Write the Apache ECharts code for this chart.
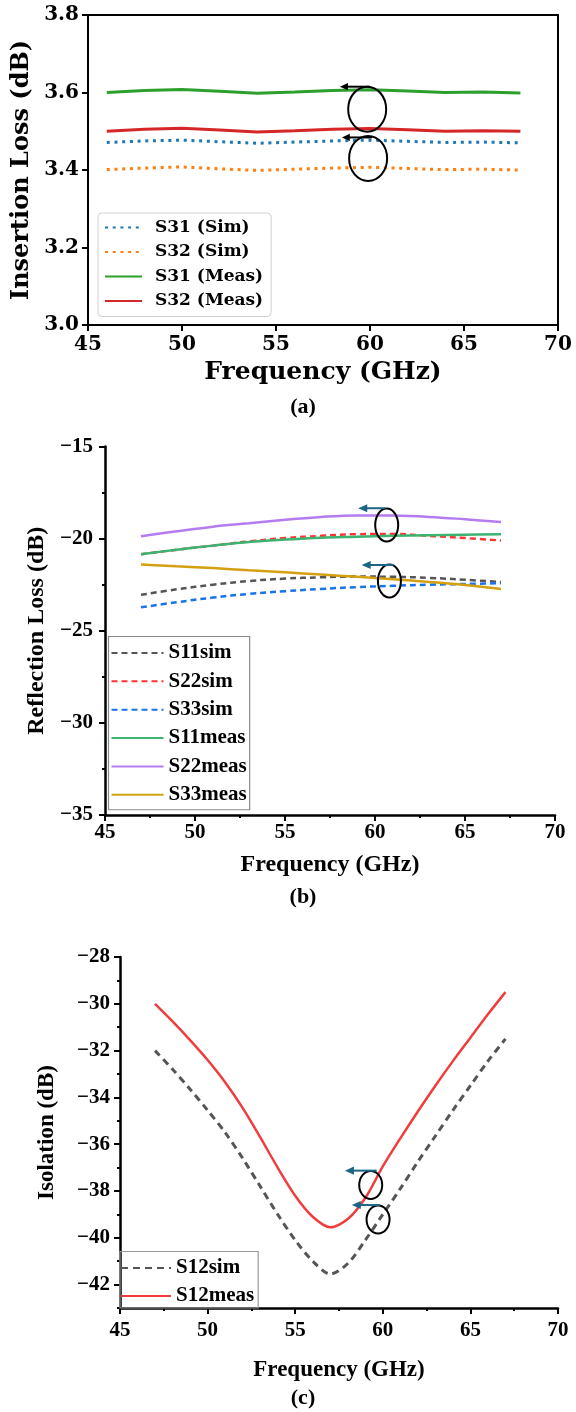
<!DOCTYPE html>
<html>
<head>
<meta charset="utf-8">
<script src="https://cdn.jsdelivr.net/npm/echarts@6/dist/echarts.min.js"></script>
<style>
  html, body { margin: 0; padding: 0; background: #fff; }
  #chart { width: 576px; height: 1412px; }
</style>
</head>
<body>
<div id="chart"></div>
<script>
// (a) insertion loss
var freqA = [46, 48, 50, 52, 54, 56, 58, 60, 62, 64, 66, 68];
var s31Sim = [3.471, 3.475, 3.477, 3.473, 3.469, 3.472, 3.475, 3.477, 3.474, 3.471, 3.472, 3.470];
var s32Sim = [3.401, 3.405, 3.408, 3.403, 3.399, 3.402, 3.405, 3.407, 3.404, 3.401, 3.402, 3.400];
var s31Meas = [3.600, 3.605, 3.608, 3.603, 3.598, 3.601, 3.605, 3.607, 3.604, 3.600, 3.601, 3.599];
var s32Meas = [3.500, 3.505, 3.508, 3.503, 3.498, 3.501, 3.505, 3.507, 3.504, 3.500, 3.501, 3.500];

// (b) reflection loss
var freqB = [47, 49, 51, 53, 55, 57, 59, 61, 63, 65, 67];
var s11Sim = [-23.05, -22.75, -22.5, -22.3, -22.17, -22.1, -22.06, -22.07, -22.13, -22.23, -22.36];
var s22Sim = [-20.85, -20.6, -20.38, -20.15, -19.97, -19.85, -19.76, -19.75, -19.85, -19.97, -20.1];
var s33Sim = [-23.73, -23.45, -23.2, -23.0, -22.85, -22.73, -22.63, -22.56, -22.5, -22.46, -22.42];
var s11Meas = [-20.85, -20.6, -20.38, -20.18, -20.05, -19.95, -19.9, -19.85, -19.82, -19.79, -19.76];
var s22Meas = [-19.87, -19.6, -19.35, -19.17, -18.98, -18.82, -18.74, -18.75, -18.82, -18.95, -19.1];
var s33Meas = [-21.4, -21.5, -21.6, -21.72, -21.83, -21.95, -22.07, -22.2, -22.35, -22.52, -22.73];

// (c) isolation
var freqC = [47, 48, 49, 50, 51, 52, 53, 54, 55, 56, 57, 58, 59, 60, 61, 62, 63, 64, 65, 66, 67];
var s12Sim = [-32.0, -32.8, -33.65, -34.55, -35.5, -36.6, -37.8, -39.0, -40.1, -41.0, -41.55, -41.1, -40.1, -39.0, -37.9, -36.75, -35.65, -34.55, -33.5, -32.45, -31.5];
var s12Meas = [-30.0, -30.75, -31.55, -32.4, -33.35, -34.45, -35.7, -37.0, -38.2, -39.1, -39.55, -39.2, -38.3, -36.95, -35.75, -34.6, -33.5, -32.45, -31.45, -30.45, -29.5];

// tick labels
var freqTicks = [45, 50, 55, 60, 65, 70];
var isoTicks = [-42, -40, -38, -36, -34, -32, -30, -28];

// arrow + ellipse annotations, in data units: ellipse centre, arrow tail, arrow tip
var annotA = [
    {c: [59.85, 3.557], from: [60.0, 3.615], to: [58.4, 3.615]},
    {c: [59.9, 3.43], from: [60.1, 3.484], to: [58.5, 3.484]}
];
var annotB = [
    {c: [60.65, -19.26], from: [60.56, -18.35], to: [59.07, -18.35]},
    {c: [60.8, -22.3], from: [61.02, -21.43], to: [59.26, -21.43]}
];
var annotC = [
    {c: [59.31, -37.74], from: [59.65, -37.13], to: [57.84, -37.13]},
    {c: [59.73, -39.22], from: [59.84, -38.6], to: [58.23, -38.6]}
];

var FONT_A = '"DejaVu Serif", serif';
var FONT_B = '"Liberation Serif", "Times New Roman", serif';
var MINUS = '\u2212';

function pairs(xs, ys) {
    return xs.map(function (x, i) { return [x, ys[i]]; });
}
function minusFmt(v) {
    return v < 0 ? MINUS + Math.abs(v) : String(v);
}
function line(name, idx, xs, ys, color, width, dash, smooth) {
    return {
        name: name, type: 'line', xAxisIndex: idx, yAxisIndex: idx,
        data: pairs(xs, ys), symbol: 'none', smooth: smooth || false,
        lineStyle: {color: color, width: width, type: dash || 'solid'},
        itemStyle: {color: color}, z: 3
    };
}

var blackLine = {show: true, lineStyle: {color: '#000', width: 2}};
var tick = {show: true, length: 6, lineStyle: {color: '#000', width: 2}};
var minor = {show: true, splitNumber: 2, length: 3, lineStyle: {color: '#000', width: 2}};

var chart = echarts.init(document.getElementById('chart'));

var option = {
    animation: false,
    backgroundColor: '#fff',
    grid: [
        {left: 88, right: 18, top: 15, height: 310, show: true, borderColor: '#000', borderWidth: 2},
        {left: 105, right: 21, top: 446.5, height: 368.5},
        {left: 120, right: 18, top: 957, height: 351}
    ],
    xAxis: [
        {
            gridIndex: 0, type: 'value', min: 45, max: 70, interval: 5,
            axisLine: blackLine, axisTick: tick,
            axisLabel: {color: '#000', fontFamily: FONT_A, fontWeight: 'bold', fontSize: 20, margin: 10},
            splitLine: {show: false},
            name: 'Frequency (GHz)', nameLocation: 'middle', nameGap: 34.5,
            nameTextStyle: {color: '#000', fontFamily: FONT_A, fontWeight: 'bold', fontSize: 25}
        },
        {
            gridIndex: 1, type: 'value', min: 45, max: 70, interval: 5,
            axisLine: {show: true, lineStyle: {color: '#000', width: 2.5}},
            axisTick: tick, minorTick: minor,
            axisLabel: {color: '#000', fontFamily: FONT_B, fontWeight: 'bold', fontSize: 21, margin: 7},
            splitLine: {show: false},
            name: 'Frequency (GHz)', nameLocation: 'middle', nameGap: 38,
            nameTextStyle: {color: '#000', fontFamily: FONT_B, fontWeight: 'bold', fontSize: 24}
        },
        {
            gridIndex: 2, type: 'value', min: 45, max: 70, interval: 5,
            axisLine: {show: true, lineStyle: {color: '#000', width: 2.5}},
            axisTick: tick, minorTick: minor,
            axisLabel: {color: '#000', fontFamily: FONT_B, fontWeight: 'bold', fontSize: 21, margin: 12,
                customValues: freqTicks},
            splitLine: {show: false},
            name: 'Frequency (GHz)', nameLocation: 'middle', nameGap: 51,
            nameTextStyle: {color: '#000', fontFamily: FONT_B, fontWeight: 'bold', fontSize: 23}
        }
    ],
    yAxis: [
        {
            gridIndex: 0, type: 'value', min: 3.0, max: 3.8, interval: 0.2,
            axisLine: blackLine, axisTick: tick,
            axisLabel: {color: '#000', fontFamily: FONT_A, fontWeight: 'bold', fontSize: 20, margin: 9,
                formatter: function (v) { return v.toFixed(1); }},
            splitLine: {show: false},
            name: 'Insertion Loss (dB)', nameLocation: 'middle', nameGap: 38,
            nameTextStyle: {color: '#000', fontFamily: FONT_A, fontWeight: 'bold', fontSize: 24}
        },
        {
            gridIndex: 1, type: 'value', min: -35, max: -15, interval: 5,
            axisLine: {show: true, lineStyle: {color: '#000', width: 2.5}},
            axisTick: tick, minorTick: minor,
            axisLabel: {color: '#000', fontFamily: FONT_B, fontWeight: 'bold', fontSize: 21, margin: 12,
                formatter: minusFmt},
            splitLine: {show: false},
            name: 'Reflection Loss (dB)', nameLocation: 'middle', nameGap: 43,
            nameTextStyle: {color: '#000', fontFamily: FONT_B, fontWeight: 'bold', fontSize: 24}
        },
        {
            // carries the series; major ticks + labels every 2 dB
            gridIndex: 2, type: 'value', position: 'left', min: -43, max: -28, interval: 1,
            axisLine: {show: true, lineStyle: {color: '#000', width: 2.5}},
            axisTick: {show: true, length: 6, customValues: isoTicks, lineStyle: {color: '#000', width: 2}},
            axisLabel: {color: '#000', fontFamily: FONT_B, fontWeight: 'bold', fontSize: 21, margin: 10,
                customValues: isoTicks, formatter: minusFmt},
            splitLine: {show: false},
            name: 'Isolation (dB)', nameLocation: 'middle', nameGap: 61,
            nameTextStyle: {color: '#000', fontFamily: FONT_B, fontWeight: 'bold', fontSize: 23}
        },
        {
            // short ticks every 1 dB
            gridIndex: 2, type: 'value', position: 'left', offset: 0, min: -43, max: -28, interval: 1,
            axisLine: {show: false},
            axisTick: {show: true, length: 3, lineStyle: {color: '#000', width: 2}},
            axisLabel: {show: false},
            splitLine: {show: false}
        }
    ],
    legend: [
        {
            data: ['S31 (Sim)', 'S32 (Sim)', 'S31 (Meas)', 'S32 (Meas)'],
            orient: 'vertical', left: 98, top: 213, selectedMode: false,
            itemWidth: 37, itemHeight: 14, itemGap: 7.5, itemStyle: {opacity: 0},
            padding: [6, 8, 7, 6], borderColor: '#d0d0d0', borderWidth: 1, borderRadius: 4,
            textStyle: {color: '#000', fontFamily: FONT_A, fontWeight: 'bold', fontSize: 17, lineHeight: 17,
                padding: [0, 0, 0, 8]}
        },
        {
            data: ['S11sim', 'S22sim', 'S33sim', 'S11meas', 'S22meas', 'S33meas'],
            orient: 'vertical', left: 108.5, top: 636.5, selectedMode: false,
            itemWidth: 52, itemHeight: 14, itemGap: 7.35, itemStyle: {opacity: 0},
            padding: [6, 3, 4.5, 2], borderColor: '#8a8a8a', borderWidth: 1.2, borderRadius: 0,
            textStyle: {color: '#000', fontFamily: FONT_B, fontWeight: 'bold', fontSize: 21, lineHeight: 21}
        },
        {
            data: ['S12sim', 'S12meas'],
            orient: 'vertical', left: 120, top: 1251.5, selectedMode: false,
            itemWidth: 50, itemHeight: 14, itemGap: 7, itemStyle: {opacity: 0},
            padding: [6, 4, 1.5, 0], borderColor: '#9a9a9a', borderWidth: 1.2, borderRadius: 0,
            textStyle: {color: '#000', fontFamily: FONT_B, fontWeight: 'bold', fontSize: 21, lineHeight: 21}
        }
    ],
    series: [
        line('S31 (Sim)', 0, freqA, s31Sim, '#1f77b4', 3, [3, 4.7]),
        line('S32 (Sim)', 0, freqA, s32Sim, '#ff7f0e', 3, [3, 4.7]),
        line('S31 (Meas)', 0, freqA, s31Meas, '#2ca02c', 3),
        line('S32 (Meas)', 0, freqA, s32Meas, '#d62728', 3),

        line('S11sim', 1, freqB, s11Sim, '#555555', 2.5, [6, 4], 0.4),
        line('S22sim', 1, freqB, s22Sim, '#ff3333', 2.5, [6, 4], 0.4),
        line('S33sim', 1, freqB, s33Sim, '#1a73e8', 2.5, [6, 4], 0.4),
        line('S11meas', 1, freqB, s11Meas, '#3cb371', 2.5, null, 0.4),
        line('S22meas', 1, freqB, s22Meas, '#b47cf0', 2.5, null, 0.4),
        line('S33meas', 1, freqB, s33Meas, '#d4a010', 2.5, null, 0.4),

        line('S12sim', 2, freqC, s12Sim, '#555555', 3, [7, 5], 0.3),
        line('S12meas', 2, freqC, s12Meas, '#f03c3c', 2.5, null, 0.3)
    ]
};

chart.setOption(option);

// annotations: ellipse plus left-pointing arrow, placed through the grid's own scales
function annotate(gridIndex, list, color, rx, ry, head) {
    var out = [];
    list.forEach(function (a) {
        var c = chart.convertToPixel({gridIndex: gridIndex}, a.c);
        var p0 = chart.convertToPixel({gridIndex: gridIndex}, a.from);
        var p1 = chart.convertToPixel({gridIndex: gridIndex}, a.to);
        out.push({
            type: 'ellipse', z: 10,
            shape: {cx: c[0], cy: c[1], rx: rx, ry: ry},
            style: {fill: 'none', stroke: '#000', lineWidth: 2}
        });
        out.push({
            type: 'polyline', z: 10,
            shape: {points: [[p0[0], p0[1]], [p1[0] + head * 0.8, p1[1]]]},
            style: {stroke: color, lineWidth: 2, fill: 'none'}
        });
        out.push({
            type: 'polygon', z: 10,
            shape: {points: [[p1[0], p1[1]], [p1[0] + head, p1[1] - head * 0.45], [p1[0] + head, p1[1] + head * 0.45]]},
            style: {fill: color, stroke: null}
        });
    });
    return out;
}

var graphics = []
    .concat(annotate(0, annotA, '#000', 19, 22.5, 8))
    .concat(annotate(1, annotB, '#1d6585', 11.5, 16.5, 9))
    .concat(annotate(2, annotC, '#1d6585', 11.5, 14, 9));

[['(a)', 407], ['(b)', 897], ['(c)', 1398]].forEach(function (t) {
    graphics.push({
        type: 'text', x: 303, y: t[1], z: 10,
        style: {text: t[0], fill: '#000', align: 'center', verticalAlign: 'middle',
            font: 'bold 22px "Liberation Serif", serif'}
    });
});

chart.setOption({graphic: graphics});
</script>
</body>
</html>
